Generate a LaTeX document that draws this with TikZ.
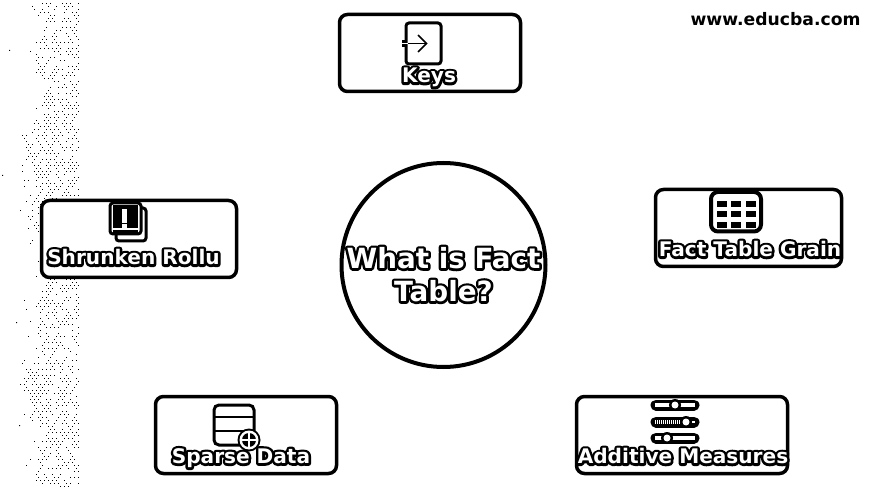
\documentclass[tikz,border=0pt]{standalone}
\usepackage{fontspec}
\setmainfont{DejaVu Sans}[BoldFont={DejaVu Sans Bold}]
\newcommand{\outl}[1]{\leavevmode\rlap{\special{pdf:code 1 Tr 0 0 0 RG 0 0 0 rg 5 w 1 j}#1\special{pdf:code 0 Tr 0.4 w 0 j}}{\color{white}#1}}
\newcommand{\dotfield}{%
  \pgfmathsetseed{4242}%
  \foreach \row in {0,...,162}{%
    \pgfmathsetmacro{\edge}{36+7*sin(\row*5)+6*sin(\row*13+40)}%
    \foreach \col in {0,...,14}{%
      \pgfmathsetmacro{\dx}{78-\col*4-mod(\row,2)*2}%
      \pgfmathsetmacro{\dy}{\row*3+3}%
      \pgfmathsetmacro{\keep}{rnd<(\dx>\edge?0.55:(\dx>\edge-12?0.1:0.0))?1:0}%
      \ifnum\keep=1 \fill[black] (\dx,\dy) rectangle ++(1,1);\fi
    }%
  }%
  \fill[black] (9,50) rectangle ++(1,1) (2,175) rectangle ++(1,1) (16,322) rectangle ++(1,1) (19,425) rectangle ++(1,1);
}
\tikzset{
  x=1pt,y=-1pt,
  card/.style={draw=black,line width=3.5pt,rounded corners=8pt,fill=white,inner sep=0pt},
  title/.style={font=\bfseries\fontsize{27.8pt}{32pt}\selectfont,inner sep=0pt,align=center},
  lbl/.style={font=\bfseries\fontsize{20.1pt}{24pt}\selectfont,inner sep=0pt},
  ico/.style={draw=black,line width=3pt,rounded corners=3pt,fill=white},
  slider/.style={draw=black,line width=11pt,line cap=round},
  sliderin/.style={draw=white,line width=4pt},
  knobout/.style={fill=black},
  knobin/.style={fill=white},
}
\begin{document}
\begin{tikzpicture}
\useasboundingbox (0,0) rectangle (884,489);
\fill[white] (0,0) rectangle (884,489);
\dotfield
\node[card,minimum width=181pt,minimum height=77pt] (keysbox) at (430,53) {};
\node[card,minimum width=195pt,minimum height=77pt] (shrbox) at (139,239) {};
\node[card,minimum width=186pt,minimum height=77pt] (factbox) at (748.5,228) {};
\node[card,minimum width=181pt,minimum height=77pt] (spabox) at (246,435) {};
\node[card,minimum width=211pt,minimum height=77pt] (addbox) at (682,435) {};
\node[draw=black,line width=4pt,circle,minimum size=204pt,inner sep=0pt,fill=white] (hub) at (443.5,265) {};
% keys icon
\draw[ico] (406,23) rectangle (441,64);
\draw[black,line width=7pt] (402,43.5) -- (407,43.5);
\draw[white,line width=1.5pt] (402,43.5) -- (408,43.5);
\draw[black,line width=1.5pt] (408,43.5) -- (426,43.5);
\draw[black,line width=1.5pt] (418,35) -- (426.5,43.5) -- (418,52);
% shrunken icon
\draw[ico] (116,208) rectangle (146,241);
\draw[ico,line width=3pt] (110,203) rectangle (141,234);
\fill[black] (113,205) rectangle (138,228);
\fill[black] (113,230) rectangle (138,234);
\fill[white] (122,209) rectangle (127,223);
\fill[white] (122,224) rectangle (127,228);
% fact icon
\draw[ico,line width=4pt,rounded corners=7pt] (711,192) rectangle (761,231.5);
\foreach \cx/\cw in {716.5/10,731/10,745.5/10.5}{\foreach \cy in {201,211.5,222}{\fill[black] (\cx,\cy) rectangle ++(\cw,6);}}
% sparse icon
\draw[ico,rounded corners=5pt] (214,405) rectangle (254,445);
\draw[black,line width=1.5pt] (214,417) -- (254,417);
\draw[black,line width=1.5pt] (214,431) -- (254,431);
\fill[black] (249,440) circle (11.5);
\fill[white] (249,440) circle (9.5);
\fill[black] (249,440) circle (7);
\draw[white,line width=2.5pt] (249,432) -- (249,448) (241,440) -- (257,440);
% additive icon
\draw[slider] (656,405) -- (694,405);
\draw[sliderin] (655,405) -- (695,405);
\fill[knobout] (675,405) circle (6);
\fill[knobin] (675,405) circle (3.5);
\draw[slider] (656,422) -- (694,422);
\draw[sliderin,dash pattern=on 1pt off 1pt] (655,422) -- (682,422);
\draw[sliderin,line width=2pt] (690,422) -- (695,422);
\fill[knobout] (686,422) circle (6);
\fill[knobin] (686,422) circle (3.5);
\draw[slider] (656,438) -- (694,438);
\draw[sliderin] (655,438) -- (695,438);
\fill[knobout] (667,438) circle (6);
\fill[knobin] (667,438) circle (3.5);
% labels
\node[lbl] (keys) at (429,77.5) {\outl{Keys}};
\node[lbl] (shr) at (133.5,257) {\outl{Shrunken Rollu}};
\node[lbl] (fact) at (750,249) {\outl{Fact Table Grain}};
\node[lbl] (spa) at (241,458) {\outl{Sparse Data}};
\node[lbl] (add) at (683,456) {\outl{Additive Measures}};
\node[title] (t1) at (443.5,258) {\outl{What is Fact}};
\node[title] (t2) at (443.5,291) {\outl{Table?}};
\node[inner sep=0pt,font=\bfseries\fontsize{17.2pt}{20pt}\selectfont] (web) at (775.5,19) {www.educba.com};
\end{tikzpicture}
\end{document}
